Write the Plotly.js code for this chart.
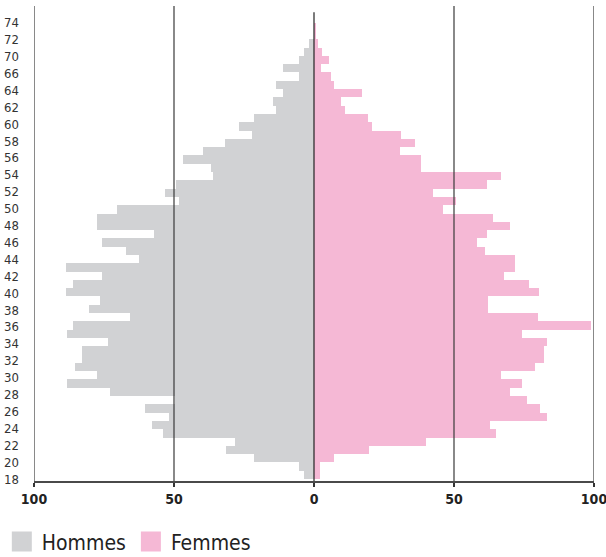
<!DOCTYPE html>
<html>
<head>
<meta charset="utf-8">
<script src="https://cdn.plot.ly/plotly-3.0.1.min.js"></script>
<style>
  html, body { margin: 0; padding: 0; background: #fff; }
  #chart { width: 606px; height: 557px; }
  #chart svg text { font-stretch: condensed !important; }
</style>
</head>
<body>
<div id="chart"></div>
<script>
// Age bins (bottom to top), each bar spans [age, age + 1]
const ages = [18,19,20,21,22,23,24,25,26,27,28,29,30,31,32,33,34,35,36,37,38,39,40,41,42,43,44,45,46,47,48,49,50,51,52,53,54,55,56,57,58,59,60,61,62,63,64,65,66,67,68,69,70,71,72];

// Hommes (left side), values per bin bottom to top
const hommes = [3.4,5.5,21.5,31.5,28.3,53.9,57.8,51.8,60.3,49.8,72.8,88.1,77.4,85.2,83.0,83.0,73.5,88.1,85.9,65.7,80.2,76.3,88.4,85.9,75.6,88.4,62.5,67.1,75.6,57.1,77.4,77.4,70.3,48.2,53.2,49.3,36.1,36.8,46.8,39.6,31.9,22.2,26.9,21.5,13.7,14.8,10.9,13.7,5.5,10.9,5.5,3.4,1.9,0,0];

// Femmes (right side), values per bin bottom to top
const femmes = [2.3,2.3,7.3,19.8,40.0,65.0,62.9,83.1,80.6,75.9,69.9,74.2,66.7,78.8,82.0,82.0,83.1,74.2,98.8,79.9,62.1,62.1,80.2,76.7,67.8,71.7,71.7,61.0,58.2,61.7,69.9,63.9,46.1,50.7,42.5,61.7,66.7,38.3,38.3,30.8,36.1,31.1,20.8,19.4,11.2,9.8,17.3,7.3,6.2,2.4,5.3,2.8,1.4,0.8,0.8];

// Tick labels
const yLabels = ["18","20","22","24","26","28","30","32","34","36","38","40","42","44","46","48","50","52","54","56","58","60","62","64","66","70","72","74"];
const xTickVals = [-100, -50, 0, 50, 100];
const xTickText = ["100", "50", "0", "50", "100"];

const seriesNames = ["Hommes", "Femmes"];
const seriesColors = ["#d1d2d4", "#f5b8d5"];

const condensed = "'Noto Sans Condensed', 'Noto Sans ExtraCondensed', 'DejaVu Sans Condensed', 'Liberation Sans Narrow', 'Roboto Condensed', 'Noto Sans', sans-serif";

const yMin = ages[0];
const yMax = ages[ages.length - 1] + 1;
const yTickVals = yLabels.map((_, i) => yMin + i * (yMax - yMin) / (yLabels.length - 1));

const traces = [
  {
    type: "bar", orientation: "h",
    y: ages, x: hommes.map(v => -v),
    width: 1, offset: 0,
    marker: { color: seriesColors[0], line: { width: 0 } },
    name: seriesNames[0], showlegend: false, hoverinfo: "skip"
  },
  {
    type: "bar", orientation: "h",
    y: ages, x: femmes,
    width: 1, offset: 0,
    marker: { color: seriesColors[1], line: { width: 0 } },
    name: seriesNames[1], showlegend: false, hoverinfo: "skip"
  },
  // legend entries
  {
    type: "scatter", mode: "markers", x: [null], y: [null],
    name: seriesNames[0],
    marker: { symbol: "square", size: 16, color: seriesColors[0], line: { width: 4, color: seriesColors[0] } }
  },
  {
    type: "scatter", mode: "markers", x: [null], y: [null],
    name: seriesNames[1],
    marker: { symbol: "square", size: 16, color: seriesColors[1], line: { width: 4, color: seriesColors[1] } }
  }
];

const shapes = xTickVals.map(v => ({
  type: "line", xref: "x", yref: "paper",
  x0: v, x1: v, y0: 0.1364, y1: (v === 0 ? 0.978 : 0.9892),
  line: { color: (v === 0 ? "#222" : "#3a3a3a"), width: 1.2 },
  layer: "above"
}));

const layout = {
  width: 606, height: 557,
  margin: { l: 0, r: 0, t: 0, b: 0, autoexpand: false },
  paper_bgcolor: "#fff", plot_bgcolor: "#fff",
  barmode: "overlay", bargap: 0,
  showlegend: true,
  legend: {
    orientation: "h", x: 0.003, xanchor: "left", y: 0.027, yanchor: "middle",
    font: { family: condensed, size: 21, color: "#222" },
    itemclick: false, itemdoubleclick: false
  },
  xaxis: {
    domain: [34 / 606, 594 / 606],
    range: [-100, 100], fixedrange: true,
    tickvals: xTickVals, ticktext: xTickText,
    showgrid: false, zeroline: false,
    showline: true, linecolor: "#4a4a4a", linewidth: 2,
    ticks: "outside", ticklen: 4, tickwidth: 1.2, tickcolor: "#333",
    ticklabeloverflow: "allow",
    tickfont: { family: condensed, size: 14, color: "#222", weight: "bold" }
  },
  yaxis: {
    domain: [76 / 557, 551 / 557],
    range: [yMin - 0.241, yMax + 2.01], fixedrange: true,
    tickvals: yTickVals, ticktext: yLabels,
    showgrid: false, zeroline: false, showline: false,
    ticks: "", ticklabelstandoff: 14,
    tickfont: { family: condensed, size: 13, color: "#333" }
  },
  shapes: shapes,
  hovermode: false
};

Plotly.newPlot("chart", traces, layout, { staticPlot: true, displayModeBar: false });
</script>
</body>
</html>
